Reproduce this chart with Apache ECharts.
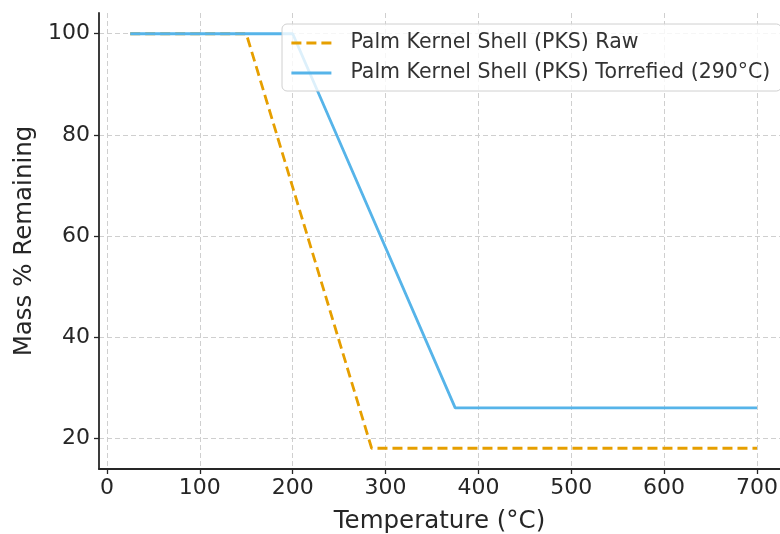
<!DOCTYPE html>
<html>
<head>
<meta charset="utf-8">
<script src="https://cdn.jsdelivr.net/npm/echarts@6/dist/echarts.min.js"></script>
<style>
  html, body { margin: 0; padding: 0; background: #fff; }
  #chart { width: 780px; height: 534px; }
</style>
</head>
<body>
<div id="chart"></div>
<script>
// Thermogravimetric mass-loss curves for palm kernel shell
const seriesNames = [
  'Palm Kernel Shell (PKS) Raw',
  'Palm Kernel Shell (PKS) Torrefied (290°C)'
];
const rawTemps = [25, 150, 285, 700];
const rawMass = [100, 100, 18, 18];
const torrefiedTemps = [25, 200, 375, 700];
const torrefiedMass = [100, 100, 26, 26];
const xTicks = [0, 100, 200, 300, 400, 500, 600, 700];
const yTicks = [20, 40, 60, 80, 100];

const font = 'DejaVu Sans';
const pairs = (xs, ys) => xs.map((x, i) => [x, ys[i]]);

const chart = echarts.init(document.getElementById('chart'), null, { renderer: 'canvas' });
chart.setOption({
  animation: false,
  backgroundColor: '#fff',
  grid: { left: 99, right: 0, top: 13, bottom: 65, containLabel: false, outerBoundsMode: 'none' },
  legend: {
    orient: 'vertical',
    left: 282,
    top: 24,
    padding: [7, 11, 6, 8],
    itemGap: 6,
    itemWidth: 40,
    itemHeight: 14,
    backgroundColor: 'rgba(255,255,255,0.8)',
    borderColor: '#d0d0d0',
    borderWidth: 1,
    borderRadius: 5,
    itemStyle: { color: 'rgba(0,0,0,0)', borderWidth: 0, opacity: 0 },
    lineStyle: { width: 2.8 },
    textStyle: { fontFamily: font, fontSize: 20.5, lineHeight: 24, color: '#333', padding: [0, 0, 0, 14] },
    data: seriesNames
  },
  xAxis: {
    type: 'value',
    min: -8.6,
    max: 724.8,
    name: 'Temperature (°C)',
    nameLocation: 'middle',
    nameGap: 40,
    nameTextStyle: { fontFamily: font, fontSize: 24.5, color: '#262626' },
    axisLine: { show: true, onZero: false, lineStyle: { color: '#262626', width: 1.8 } },
    axisTick: { show: true, length: 5, lineStyle: { color: '#262626', width: 1.3 }, customValues: xTicks },
    axisLabel: { fontFamily: font, fontSize: 22, color: '#262626', margin: 8, customValues: xTicks },
    splitLine: { show: true, lineStyle: { color: '#cfcfcf', type: [5, 3], width: 1 } }
  },
  yAxis: {
    type: 'value',
    min: 13.9,
    max: 104.1,
    name: 'Mass % Remaining',
    nameLocation: 'middle',
    nameGap: 51,
    nameTextStyle: { fontFamily: font, fontSize: 24.5, color: '#262626' },
    axisLine: { show: true, onZero: false, lineStyle: { color: '#262626', width: 1.8 } },
    axisTick: { show: true, length: 5, lineStyle: { color: '#262626', width: 1.3 }, customValues: yTicks },
    axisLabel: { fontFamily: font, fontSize: 22, color: '#262626', margin: 9, customValues: yTicks },
    splitLine: { show: true, lineStyle: { color: '#cfcfcf', type: [5, 3], width: 1 } }
  },
  series: [
    {
      name: seriesNames[0],
      type: 'line',
      data: pairs(rawTemps, rawMass),
      symbol: 'none',
      lineStyle: { color: '#E69F00', width: 2.8, type: [10, 5], cap: 'butt' },
      itemStyle: { color: '#E69F00' },
      z: 2
    },
    {
      name: seriesNames[1],
      type: 'line',
      data: pairs(torrefiedTemps, torrefiedMass),
      symbol: 'none',
      lineStyle: { color: '#56B4E9', width: 2.8 },
      itemStyle: { color: '#56B4E9' },
      z: 3
    }
  ]
});
</script>
</body>
</html>
